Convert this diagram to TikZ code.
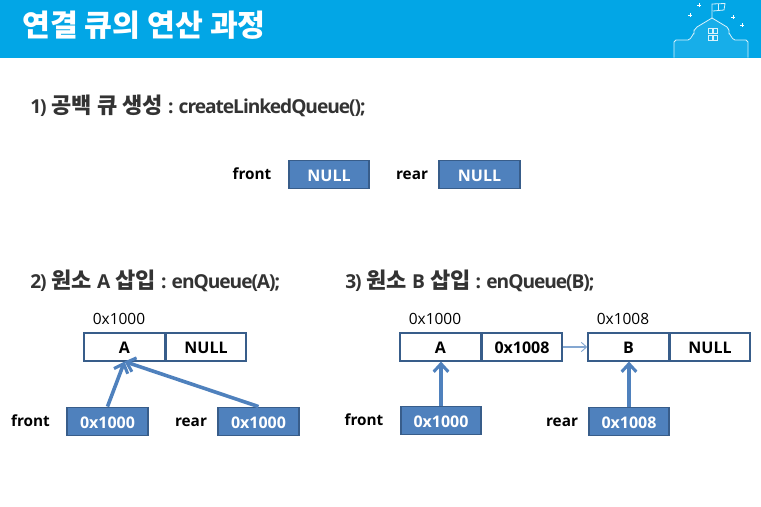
\documentclass[tikz,border=0pt]{standalone}
\usepackage{fontspec}
\setmainfont{Noto Sans CJK KR}
\newfontfamily\latinf{Open Sans}
\newfontfamily\latint[LetterSpace=-5.5]{Open Sans}
\usetikzlibrary{arrows.meta}
\definecolor{hdr}{HTML}{02A6E6}
\definecolor{hdrl}{HTML}{17AEE9}
\definecolor{bfill}{HTML}{4F81BD}
\definecolor{bline}{HTML}{385D8A}
\definecolor{hd}{HTML}{333333}
\newcommand{\ltn}[1]{{\fontsize{14.4}{14.4}\selectfont\bfseries\latint #1}}
\tikzset{
  x=0.75pt,y=-0.75pt,
  valbox/.style={draw=bline,line width=1.4pt,fill=bfill,text=white,minimum width=60.5pt,minimum height=21pt,inner sep=0pt,text height=10pt,text depth=0pt,font=\fontsize{12}{12}\selectfont\bfseries\latinf},
  cell/.style={draw=bline,line width=1.3pt,fill=white,text=black,minimum width=60.5pt,minimum height=20.5pt,inner sep=0pt,text height=10pt,text depth=0pt,font=\fontsize{12}{12}\selectfont\bfseries\latinf},
  lbl/.style={inner sep=0pt,text=black,font=\fontsize{11.5}{11.5}\selectfont\bfseries\latinf},
  addr/.style={inner sep=0pt,text=black,font=\fontsize{11.6}{11.6}\selectfont\latinf},
  head/.style={inner sep=0pt,anchor=west,text=hd,font=\fontsize{16.5}{16.5}\selectfont\bfseries},
  ptr/.style={draw=bfill,line width=2.7pt,-{Straight Barb[length=6pt,width=11pt,line width=2.3pt]}},
  link/.style={draw=bfill!70,line width=0.9pt,-{Straight Barb[length=4pt,width=7pt,line width=0.7pt]}},
  icon/.style={draw=white!85!hdr,line width=0.6pt},
}
\begin{document}
\begin{tikzpicture}
\useasboundingbox (0,0) rectangle (761,507);
\fill[hdr] (0,0) rectangle (761,57.5);
% school icon
\path[icon,fill=hdrl,line join=round] (674,57.5) -- (674,42) to[out=-90,in=180] (676,40) -- (688,40) to[out=0,in=90] (694,34) -- (694,30) to[out=-90,in=210] (697,27) -- (712,18) -- (727,27) to[out=-30,in=-90] (729,30) -- (729,34) to[out=90,in=180] (735,40) -- (746,40) to[out=0,in=-90] (748,42) -- (748,57.5);
\draw[icon] (712,18) -- (712,4) -- (725,3.5) -- (724,10) -- (713,11);
\draw[icon] (718,4) -- (718,10.5);
\foreach \wx/\wy in {708/28,713/28,708/35,713/35}
  \draw[icon,line width=0.5pt] (\wx,\wy) rectangle ++(4,5);
\foreach \sx/\sy in {699/5,690/15,733/17,742/25}
  \draw[white,line width=0.6pt] (\sx-2,\sy) -- (\sx+2,\sy) (\sx,\sy-2) -- (\sx,\sy+2);
% headings
\node[inner sep=0pt,anchor=west,text=white,font=\fontsize{22.7}{22.7}\selectfont\bfseries] (title) at (22,25) {연결 큐의 연산 과정};
\node[head] (h1) at (30,106) {\ltn{1)} 공백 큐 생성 \ltn{: createLinkedQueue();}};
\node[head] (h2) at (30,281) {\ltn{2)} 원소 \ltn{A} 삽입 \ltn{: enQueue(A);}};
\node[head] (h3) at (345,281) {\ltn{3)} 원소 \ltn{B} 삽입 \ltn{: enQueue(B);}};
% part 1
\node[lbl] (f1) at (252,174) {front};
\node[valbox] (n1) at (329,174.5) {NULL};
\node[lbl] (r1) at (412,175) {rear};
\node[valbox] (n2) at (479.5,174.5) {NULL};
% part 2
\node[addr] (a2) at (119,319) {0x1000};
\node[cell] (cA) at (124.5,347) {A};
\node[cell] (cN) at (206,347) {NULL};
\node[lbl] (f2) at (30.5,421) {front};
\node[valbox] (fv2) at (107.5,421.5) {0x1000};
\node[lbl] (r2) at (191,422) {rear};
\node[valbox] (rv2) at (258.5,421.5) {0x1000};
\draw[ptr] (fv2.north) -- (cA.south);
\draw[ptr] (rv2.north) -- (cA.south);
% part 3
\node[addr] (a3) at (435,319) {0x1000};
\node[cell] (dA) at (440.5,347) {A};
\node[cell] (dP) at (522,347) {0x1008};
\node[addr] (b3) at (623,319) {0x1008};
\node[cell] (dB) at (628.5,347) {B};
\node[cell] (dN) at (710,347) {NULL};
\draw[link] (dP.east) -- (dB.west);
\node[lbl] (f3) at (364,420) {front};
\node[valbox] (fv3) at (441,420.5) {0x1000};
\node[lbl] (r3) at (562,422) {rear};
\node[valbox] (rv3) at (629,421.5) {0x1008};
\draw[ptr] (fv3.north) -- (fv3.north |- dA.south);
\draw[ptr] (rv3.north) -- (rv3.north |- dB.south);
\end{tikzpicture}
\end{document}
